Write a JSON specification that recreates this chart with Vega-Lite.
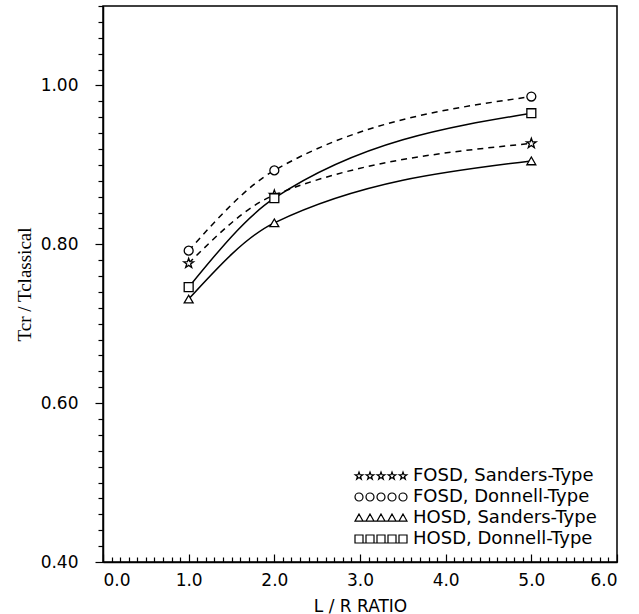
{
  "$schema": "https://vega.github.io/schema/vega-lite/v6.json",
  "width": 514,
  "height": 556,
  "autosize": "none",
  "padding": {"left": 103, "top": 6, "right": 22, "bottom": 52},
  "background": "white",
  "config": {
    "view": {"stroke": "black", "strokeWidth": 1.5},
    "font": "DejaVu Sans",
    "axis": {
      "grid": false,
      "domainColor": "black",
      "domainWidth": 1.5,
      "tickColor": "black",
      "tickWidth": 1.2,
      "labelColor": "black",
      "titleColor": "black",
      "labelFont": "DejaVu Sans",
      "labelFontSize": 17,
      "titleFont": "DejaVu Sans",
      "titleFontSize": 17,
      "titleFontWeight": "normal",
      "labelOverlap": false
    }
  },
  "data": {
    "values": [
      {"lr": 1, "ratio": 0.776, "series": "FOSD, Sanders-Type"},
      {"lr": 2, "ratio": 0.862, "series": "FOSD, Sanders-Type"},
      {"lr": 5, "ratio": 0.927, "series": "FOSD, Sanders-Type"},
      {"lr": 1, "ratio": 0.792, "series": "FOSD, Donnell-Type"},
      {"lr": 2, "ratio": 0.893, "series": "FOSD, Donnell-Type"},
      {"lr": 5, "ratio": 0.986, "series": "FOSD, Donnell-Type"},
      {"lr": 1, "ratio": 0.731, "series": "HOSD, Sanders-Type"},
      {"lr": 2, "ratio": 0.827, "series": "HOSD, Sanders-Type"},
      {"lr": 5, "ratio": 0.905, "series": "HOSD, Sanders-Type"},
      {"lr": 1, "ratio": 0.746, "series": "HOSD, Donnell-Type"},
      {"lr": 2, "ratio": 0.858, "series": "HOSD, Donnell-Type"},
      {"lr": 5, "ratio": 0.965, "series": "HOSD, Donnell-Type"}
    ]
  },
  "encoding": {
    "x": {
      "field": "lr",
      "type": "quantitative",
      "scale": {"domain": [0, 6], "nice": false, "zero": false},
      "axis": {
        "title": "L / R RATIO",
        "values": [0,0.1,0.2,0.3,0.4,0.5,0.6,0.7,0.8,0.9,1,1.1,1.2,1.3,1.4,1.5,1.6,1.7,1.8,1.9,2,2.1,2.2,2.3,2.4,2.5,2.6,2.7,2.8,2.9,3,3.1,3.2,3.3,3.4,3.5,3.6,3.7,3.8,3.9,4,4.1,4.2,4.3,4.4,4.5,4.6,4.7,4.8,4.9,5,5.1,5.2,5.3,5.4,5.5,5.6,5.7,5.8,5.9,6],
        "labelExpr": "abs(datum.value - round(datum.value)) < 1e-6 ? format(datum.value, '.1f') : ''",
        "tickSize": {"condition": {"test": "abs(datum.value - round(datum.value)) < 1e-6", "value": -8}, "value": -5},
        "labelPadding": 18,
        "titlePadding": 7
      }
    },
    "y": {
      "field": "ratio",
      "type": "quantitative",
      "scale": {"domain": [0.4, 1.1], "nice": false, "zero": false},
      "axis": {
        "title": "Tcr  /  Tclassical",
        "titleFont": "Liberation Serif",
        "titleFontSize": 19,
        "values": [0.4,0.42,0.44,0.46,0.48,0.5,0.52,0.54,0.56,0.58,0.6,0.62,0.64,0.66,0.68,0.7,0.72,0.74,0.76,0.78,0.8,0.82,0.84,0.86,0.88,0.9,0.92,0.94,0.96,0.98,1,1.02,1.04,1.06,1.08,1.1],
        "labelExpr": "abs(datum.value * 5 - round(datum.value * 5)) < 1e-6 && datum.value < 1.05 ? format(datum.value, '.2f') : ''",
        "tickSize": {"condition": {"test": "abs(datum.value * 5 - round(datum.value * 5)) < 1e-6", "value": 8}, "value": 5},
        "labelPadding": 17,
        "titlePadding": 6
      }
    }
  },
  "layer": [
    {
      "transform": [{"filter": "indexof(datum.series, 'FOSD') === 0"}],
      "mark": {"type": "line", "interpolate": "monotone", "strokeWidth": 1.5, "color": "black", "strokeDash": [6, 5]},
      "encoding": {"detail": {"field": "series", "type": "nominal"}}
    },
    {
      "transform": [{"filter": "indexof(datum.series, 'HOSD') === 0"}],
      "mark": {"type": "line", "interpolate": "monotone", "strokeWidth": 1.5, "color": "black"},
      "encoding": {"detail": {"field": "series", "type": "nominal"}}
    },
    {
      "mark": {"type": "point", "filled": true, "fill": "white", "stroke": "black", "strokeWidth": 1.3, "size": 80, "opacity": 1},
      "encoding": {
        "shape": {
          "field": "series",
          "type": "nominal",
          "scale": {
            "domain": ["FOSD, Sanders-Type", "FOSD, Donnell-Type", "HOSD, Sanders-Type", "HOSD, Donnell-Type"],
            "range": ["M0,-1.15l0.27,0.777l0.823,0.017l-0.656,0.498l0.239,0.788l-0.676,-0.47l-0.676,0.47l0.239,-0.788l-0.656,-0.498l0.823,-0.017z", "circle", "triangle-up", "square"]
          },
          "legend": null
        }
      }
    },
    {
      "transform": [{"filter": "false"}],
      "mark": {"type": "point", "filled": false, "color": "black", "strokeWidth": 1.2, "size": 64, "opacity": 1},
      "encoding": {
        "shape": {
          "field": "series",
          "type": "nominal",
          "scale": {
            "domain": ["FOSD, Sanders-Type", "FOSD, Donnell-Type", "HOSD, Sanders-Type", "HOSD, Donnell-Type"],
            "range": [
              "M-5.5,-1l0.235,0.676l0.716,0.015l-0.571,0.433l0.208,0.685l-0.588,-0.409l-0.588,0.409l0.208,-0.685l-0.571,-0.433l0.716,-0.015zM-2.75,-1l0.235,0.676l0.716,0.015l-0.571,0.433l0.208,0.685l-0.588,-0.409l-0.588,0.409l0.208,-0.685l-0.571,-0.433l0.716,-0.015zM0,-1l0.235,0.676l0.716,0.015l-0.571,0.433l0.208,0.685l-0.588,-0.409l-0.588,0.409l0.208,-0.685l-0.571,-0.433l0.716,-0.015zM2.75,-1l0.235,0.676l0.716,0.015l-0.571,0.433l0.208,0.685l-0.588,-0.409l-0.588,0.409l0.208,-0.685l-0.571,-0.433l0.716,-0.015zM5.5,-1l0.235,0.676l0.716,0.015l-0.571,0.433l0.208,0.685l-0.588,-0.409l-0.588,0.409l0.208,-0.685l-0.571,-0.433l0.716,-0.015z",
              "M-4.5,0a1,1 0 1,0 -2,0a1,1 0 1,0 2,0zM-1.75,0a1,1 0 1,0 -2,0a1,1 0 1,0 2,0zM1,0a1,1 0 1,0 -2,0a1,1 0 1,0 2,0zM3.75,0a1,1 0 1,0 -2,0a1,1 0 1,0 2,0zM6.5,0a1,1 0 1,0 -2,0a1,1 0 1,0 2,0z",
              "M-5.5,-1l1,1.8h-2zM-2.75,-1l1,1.8h-2zM0,-1l1,1.8h-2zM2.75,-1l1,1.8h-2zM5.5,-1l1,1.8h-2zM-6.5,0.8h13",
              "M-6.5,-1h2v2h-2zM-3.75,-1h2v2h-2zM-1,-1h2v2h-2zM1.75,-1h2v2h-2zM4.5,-1h2v2h-2zM-6.5,1h13"
            ]
          },
          "legend": {
            "title": null,
            "orient": "bottom-right",
            "offset": 14,
            "labelFont": "DejaVu Sans",
            "labelFontSize": 18,
            "labelColor": "black",
            "labelLimit": 0,
            "labelExpr": "replace(datum.label, ', ', ',  ')",
            "rowPadding": 3,
            "symbolSize": 64,
            "symbolOffset": 0,
            "labelOffset": 23,
            "symbolOpacity": 1,
            "symbolFillColor": "transparent",
            "symbolStrokeColor": "black",
            "symbolStrokeWidth": 1.2
          }
        }
      }
    }
  ],
  "resolve": {"scale": {"shape": "independent"}, "legend": {"shape": "independent"}}
}
